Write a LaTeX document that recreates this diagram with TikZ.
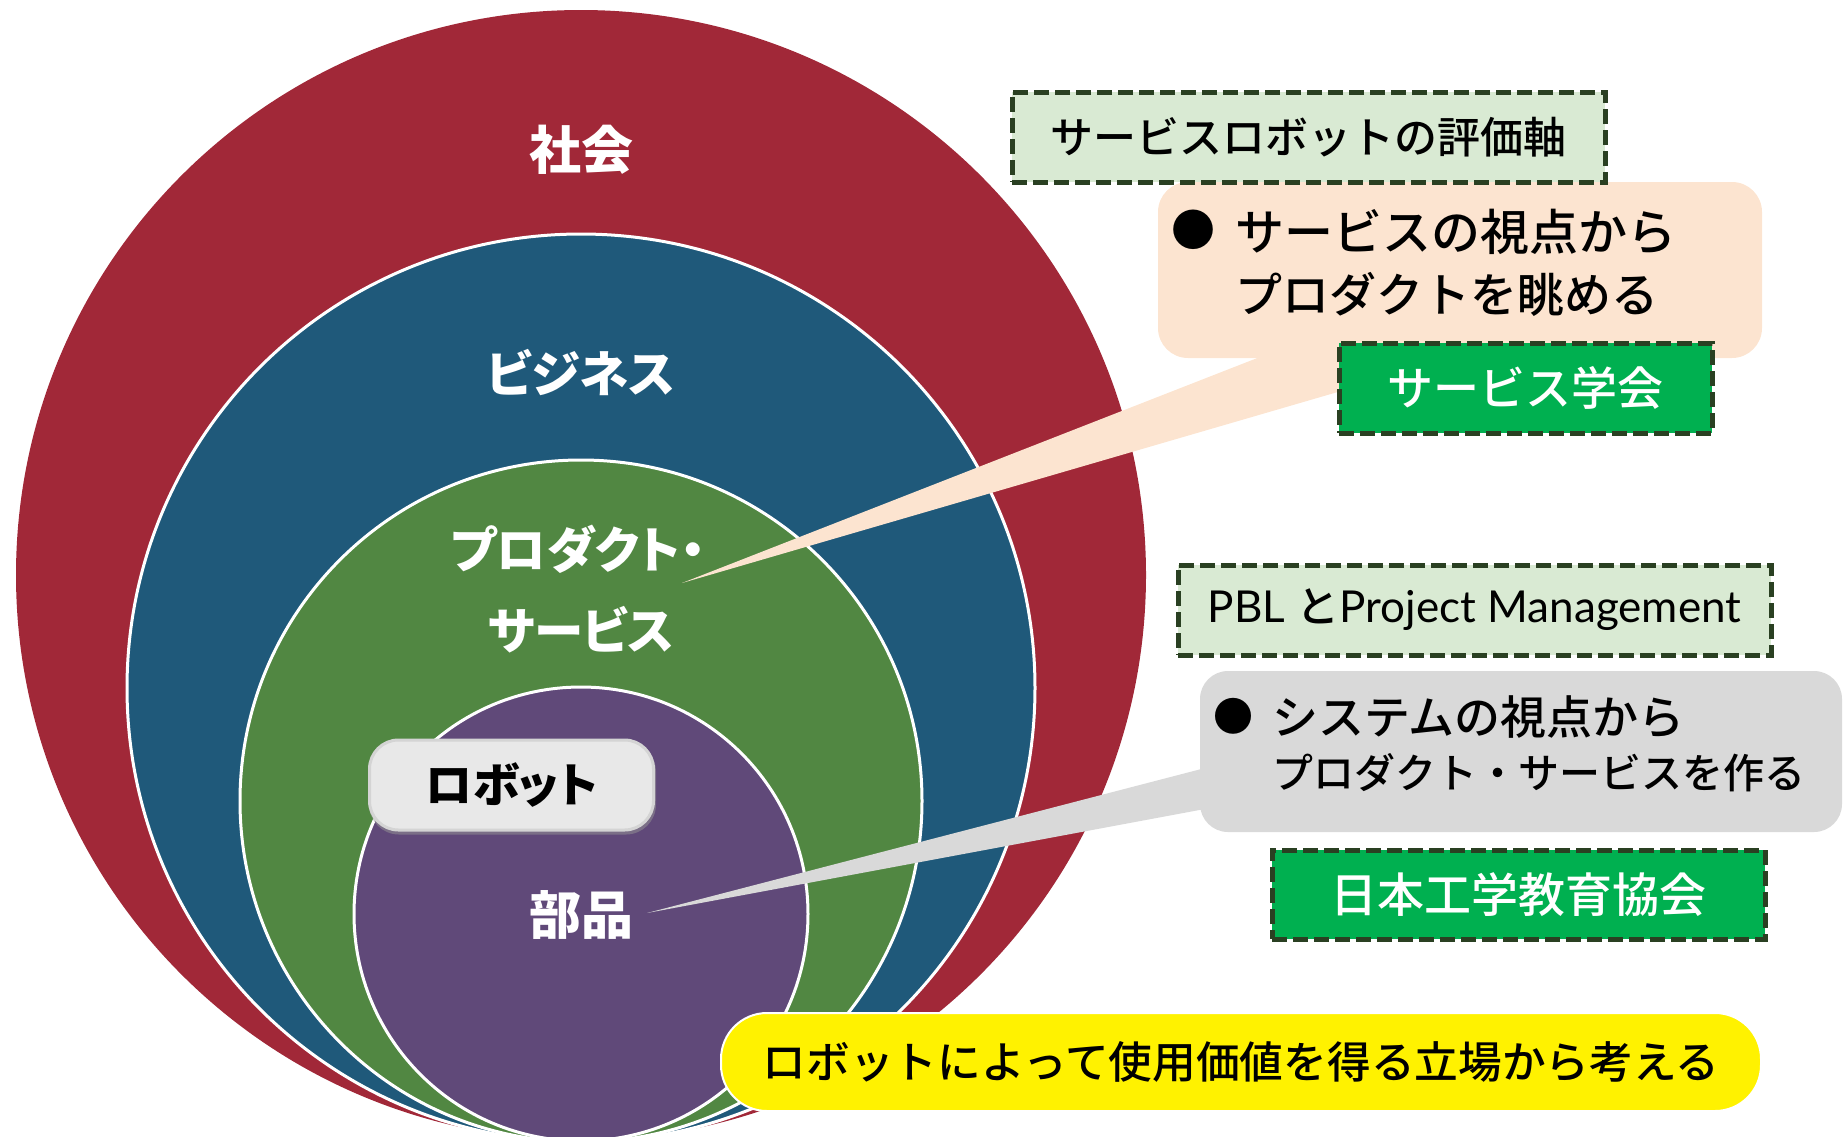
\documentclass[tikz,border=0pt]{standalone}
\usepackage{fontspec}
\setmainfont{Noto Sans CJK JP Medium}
\newfontfamily\jpp[RawFeature=+palt]{Noto Sans CJK JP}
\newfontfamily\lat{Lato}
\definecolor{cred}{RGB}{161,40,56}
\definecolor{cblue}{RGB}{31,89,122}
\definecolor{cgreen}{RGB}{81,135,66}
\definecolor{cpurple}{RGB}{96,73,121}
\definecolor{lgreen}{RGB}{217,234,211}
\definecolor{dgreen}{RGB}{42,64,34}
\definecolor{bgreen}{RGB}{0,176,80}
\definecolor{peach}{RGB}{252,228,208}
\definecolor{lgray}{RGB}{217,217,217}
\definecolor{rgray}{RGB}{232,232,232}
\definecolor{rgrayd}{RGB}{212,212,212}
\definecolor{rshadow}{RGB}{150,150,150}
\tikzset{
  lbl/.style={text=white, inner sep=0pt, font=\jpp\bfseries\fontsize{49.5}{56}\selectfont},
  evalbox/.style={rectangle, fill=lgreen, draw=dgreen, line width=5pt, dash pattern=on 15pt off 6pt, inner sep=0pt, font=\fontsize{43}{50}\selectfont},
  orgbox/.style={rectangle, fill=bgreen, draw=dgreen, line width=5pt, dash pattern=on 15pt off 6pt, inner sep=0pt, text=white, font=\fontsize{46}{52}\selectfont},
  callbox/.style={rectangle, rounded corners=30pt, inner sep=0pt},
  calltext/.style={anchor=west, inner sep=0pt},
  ring/.style={draw=white, line width=3pt}
}
\begin{document}
\begin{tikzpicture}[x=1pt,y=-1pt]
\useasboundingbox (0,0) rectangle (1845,1136);
\begin{scope}
\clip (0,0) rectangle (1845,1136);
\fill[cred] (581,575) circle (565);
\filldraw[fill=cblue, ring] (581,688) circle (454);
\filldraw[fill=cgreen, ring] (581,801) circle (341);
\filldraw[fill=cpurple, ring] (581,914) circle (227);
\end{scope}
% circle labels
\node[lbl, font=\jpp\bfseries\fontsize{52}{56}\selectfont] (lsoc) at (581,150) {社会};
\node[lbl] (lbiz) at (581,372) {ビジネス};
\node[lbl] (lprod) at (578,549) {プロダクト・};
\node[lbl] (lserv) at (581,630) {サービス};
\node[lbl, font=\jpp\bfseries\fontsize{52}{56}\selectfont] (lpart) at (581,915) {部品};
% robot box
\node[rectangle, rounded corners=30pt, fill=rshadow, opacity=0.5, minimum width=287pt, minimum height=93pt, inner sep=0pt] (robotsh) at (512.5,788) {};
\node[rectangle, rounded corners=29pt, fill=rgray, draw=rgrayd, line width=3pt, minimum width=284pt, minimum height=90pt, inner sep=0pt, font=\jpp\bfseries\fontsize{47}{52}\selectfont] (robot) at (511.5,785) {ロボット};
% callout tips
\coordinate (tipA) at (682,583);
\coordinate (tipB) at (647,913);
% peach callout
\node[callbox, fill=peach, minimum width=604pt, minimum height=176pt] (pc) at (1460,270) {};
\fill[peach] (tipA) -- ([xshift=99pt]pc.south west) -- ([xshift=296pt]pc.south west) -- cycle;
\node[inner sep=0pt, font=\fontsize{44}{50}\selectfont] (pb) at (1193,230) {●};
\node[calltext, font=\fontsize{49}{56}\selectfont] (pt1) at (1235,232) {サービスの視点から};
\node[calltext, font=\fontsize{47}{56}\selectfont] (pt2) at (1235,294) {プロダクトを眺める};
% evaluation box
\node[evalbox, minimum width=593pt, minimum height=90pt] (ev) at (1308.5,137) {サービスロボットの評価軸};
\node[orgbox, minimum width=373pt, minimum height=90pt] (ssj) at (1525.5,388) {サービス学会};
% gray callout
\node[callbox, fill=lgray, rounded corners=28pt, minimum width=642pt, minimum height=161pt] (gc) at (1521,751.5) {};
\fill[lgray] (tipB) -- ([xshift=20pt, yshift=68pt]gc.south west) -- ([xshift=20pt, yshift=26pt]gc.south west) -- cycle;
\node[inner sep=0pt, font=\fontsize{40}{48}\selectfont] (gb) at (1233,716) {●};
\node[calltext, font=\fontsize{46}{50}\selectfont] (gt1) at (1272,717) {システムの視点から};
\node[calltext, font=\fontsize{41}{50}\selectfont] (gt2) at (1272,773) {プロダクト・サービスを作る};
% PBL box
\node[evalbox, minimum width=593pt, minimum height=90pt] (pbl) at (1474.5,610) {{\lat\fontsize{44}{50}\selectfont PBL }と{\lat\fontsize{44}{50}\selectfont Project Management}};
\node[orgbox, minimum width=493pt, minimum height=89pt, font=\fontsize{47}{52}\selectfont] (jsee) at (1518.5,894.5) {日本工学教育協会};
% yellow box
\node[rectangle, rounded corners=46pt, fill=yellow, draw=white, line width=2pt, minimum width=1040pt, minimum height=98pt, inner sep=0pt, font=\fontsize{43.7}{50}\selectfont] (yel) at (1241,1062) {ロボットによって使用価値を得る立場から考える};
\end{tikzpicture}
\end{document}
